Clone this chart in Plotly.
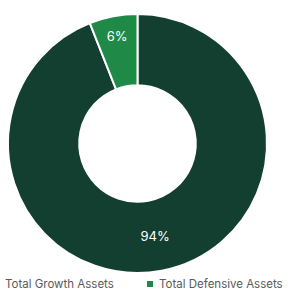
import plotly.graph_objects as go

labels = ["Total Growth Assets", "Total Defensive Assets"]
values = [94, 6]
text_labels = ["94%", "6%"]
colors = ["#133f30", "#1f8a47"]

fig = go.Figure(go.Pie(
    labels=labels, values=values, text=text_labels,
    textinfo="text", textposition="inside", insidetextorientation="horizontal",
    hole=0.45, sort=False, direction="clockwise", rotation=0,
    marker=dict(colors=colors, line=dict(color="white", width=2)),
    textfont=dict(family="Inter, Arial", size=13, color="white"),
    domain=dict(x=[8/289, 267/289], y=[1-273/292, 1-14/292]),
    hoverinfo="label+percent",
    showlegend=False,
))

# legend drawn as text + small square markers (first marker falls off the left edge)
legend_x_text = [3, 157]
legend_y = 284
for lab, col, xt in zip(labels, colors, legend_x_text):
    fig.add_annotation(
        text=lab, xref="paper", yref="paper",
        x=xt/289, y=1-legend_y/292, xanchor="left", yanchor="middle",
        showarrow=False, font=dict(family="Inter, Arial", size=11.5, color="#5a5a5a"),
    )
    fig.add_shape(type="rect", xref="paper", yref="paper",
                  x0=(xt-10)/289, x1=(xt-4)/289,
                  y0=1-(legend_y+3)/292, y1=1-(legend_y-3)/292,
                  fillcolor=col, line=dict(width=0))

fig.update_layout(
    width=289, height=292,
    margin=dict(l=0, r=0, t=0, b=0),
    paper_bgcolor="white", plot_bgcolor="white",
)
fig.write_html("out.html", config={"displayModeBar": False},
               post_script="document.body.style.margin='0';document.body.style.overflow='hidden';")
